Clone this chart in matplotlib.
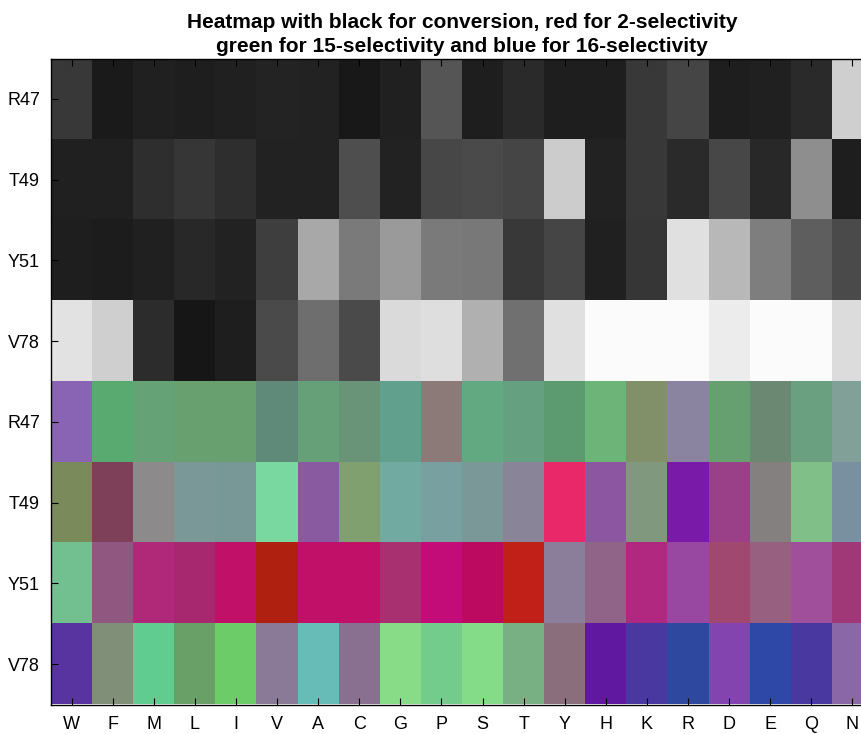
import numpy as np
import matplotlib
matplotlib.use("Agg")
from matplotlib import pyplot as plt

plt.rcParams['font.family'] = ['Liberation Sans', 'DejaVu Sans']

positions = ['R47', 'T49', 'Y51', 'V78']
residues = list('WFMLIVACGPSTYHKRDEQN')

# conversion shade per cell (0 = black, 255 = white)
conversion = [
    [56, 26, 32, 30, 32, 35, 34, 24, 32, 85, 30, 42, 30, 30, 56, 69, 30, 32, 42, 207],
    [32, 32, 46, 54, 46, 34, 34, 78, 34, 71, 74, 69, 204, 34, 56, 42, 71, 40, 142, 30],
    [30, 28, 32, 40, 34, 62, 168, 122, 154, 122, 120, 56, 69, 32, 54, 224, 184, 126, 94, 74],
    [226, 207, 44, 22, 30, 74, 110, 74, 218, 222, 176, 112, 224, 251, 251, 251, 236, 251, 251, 220],
]

# red channel: 2-selectivity
sel2 = [
    [138, 88, 101, 104, 104, 95, 101, 106, 96, 140, 98, 101, 92, 108, 130, 138, 102, 106, 106, 128],
    [122, 126, 140, 122, 120, 120, 138, 128, 112, 120, 122, 138, 232, 140, 128, 122, 154, 132, 128, 120],
    [114, 144, 176, 168, 192, 176, 192, 192, 168, 196, 188, 192, 138, 144, 176, 152, 160, 152, 160, 160],
    [88, 128, 96, 104, 108, 138, 104, 138, 136, 116, 132, 120, 138, 96, 72, 46, 132, 46, 72, 138],
]

# green channel: 15-selectivity
sel15 = [
    [100, 170, 162, 160, 160, 138, 160, 148, 160, 122, 168, 160, 154, 180, 144, 132, 160, 136, 160, 160],
    [138, 64, 138, 152, 152, 216, 90, 160, 170, 160, 152, 132, 40, 86, 152, 26, 64, 128, 192, 144],
    [192, 88, 40, 40, 16, 32, 16, 16, 48, 12, 10, 32, 126, 100, 40, 72, 72, 96, 80, 56],
    [52, 144, 204, 160, 204, 122, 188, 112, 220, 204, 220, 176, 110, 24, 56, 72, 68, 72, 56, 104],
]

# blue channel: 16-selectivity
sel16 = [
    [180, 112, 117, 112, 112, 122, 120, 120, 140, 120, 128, 128, 112, 120, 106, 160, 112, 114, 128, 152],
    [90, 88, 138, 152, 152, 160, 160, 112, 160, 160, 152, 152, 104, 160, 126, 168, 136, 128, 136, 160],
    [144, 128, 120, 112, 104, 16, 104, 104, 112, 120, 96, 24, 154, 136, 128, 160, 112, 128, 154, 120],
    [160, 120, 144, 104, 104, 152, 184, 144, 136, 140, 136, 132, 124, 160, 160, 160, 176, 168, 160, 168],
]

gray = np.array(conversion, dtype=float)[:, :, None].repeat(3, axis=2)
rgb = np.stack([np.array(sel2), np.array(sel15), np.array(sel16)], axis=2).astype(float)
img = np.concatenate([gray, rgb], axis=0) / 255.0

fig = plt.figure(figsize=(8.62, 7.34), dpi=100)
ax = fig.add_axes([51 / 862, 1 - 704.5 / 734, 822 / 862, 646 / 734])
ax.imshow(img, aspect='auto', interpolation='nearest',
          extent=(-0.5, len(residues) - 0.5, 2 * len(positions) - 0.5, -0.5))

ax.set_xticks(range(len(residues)))
ax.set_xticklabels(residues)
ax.set_yticks(range(2 * len(positions)))
ax.set_yticklabels(positions * 2)
ax.tick_params(direction='in', top=True, right=True, length=5, width=0.8,
               labelsize=13, pad=8)
for s in ax.spines.values():
    s.set_linewidth(1.0)

ax.set_title('Heatmap with black for conversion, red for 2-selectivity\n'
             'green for 15-selectivity and blue for 16-selectivity',
             fontsize=15, fontweight='bold', pad=5, linespacing=1.28)

fig.savefig('out.png', dpi=100)
